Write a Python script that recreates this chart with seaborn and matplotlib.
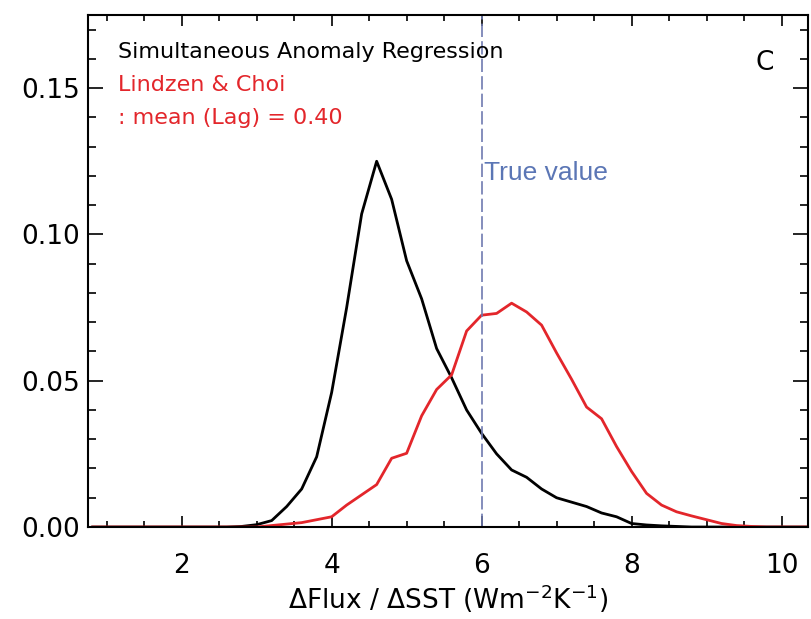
import numpy as np
import pandas as pd
import matplotlib
matplotlib.use("Agg")
import matplotlib.pyplot as plt
from matplotlib.ticker import MultipleLocator
import seaborn as sns

# bin centres (dFlux/dSST, W m-2 K-1)
x_bins = [0.8, 1.0, 1.2, 1.4, 1.6, 1.8, 2.0, 2.2, 2.4, 2.6, 2.8, 3.0, 3.2, 3.4, 3.6,
          3.8, 4.0, 4.2, 4.4, 4.6, 4.8, 5.0, 5.2, 5.4, 5.6, 5.8, 6.0, 6.2, 6.4, 6.6,
          6.8, 7.0, 7.2, 7.4, 7.6, 7.8, 8.0, 8.2, 8.4, 8.6, 8.8, 9.0, 9.2, 9.4, 9.6,
          9.8, 10.0, 10.2, 10.4]

# simultaneous anomaly regression (black)
sim_regr = [0, 0, 0, 0, 0, 0, 0, 0, 0, 0, 0.0002, 0.0008, 0.0022, 0.007, 0.013,
            0.024, 0.046, 0.075, 0.107, 0.125, 0.112, 0.091, 0.078, 0.061, 0.051,
            0.040, 0.032, 0.025, 0.0195, 0.017, 0.013, 0.010, 0.0085, 0.007, 0.0048,
            0.0035, 0.0012, 0.0007, 0.0004, 0.0002, 0, 0, 0, 0, 0,
            0, 0, 0, 0]

# Lindzen & Choi lagged regression (red)
lc_regr = [0, 0, 0, 0, 0, 0, 0, 0, 0, 0, 0, 0, 0.0005, 0.001, 0.0015,
           0.0025, 0.0035, 0.0075, 0.011, 0.0145, 0.0235, 0.0252, 0.038, 0.047, 0.052,
           0.067, 0.0724, 0.073, 0.0765, 0.0735, 0.069, 0.0595, 0.0505, 0.041, 0.037,
           0.0275, 0.019, 0.0115, 0.0075, 0.0052, 0.0038, 0.0025, 0.0012, 0.0005, 0.0002,
           0, 0, 0, 0]

true_value = 6.0

df = pd.DataFrame({
    "x": x_bins * 2,
    "pdf": sim_regr + lc_regr,
    "series": ["sim"] * len(x_bins) + ["lc"] * len(x_bins),
})

sns.set_style("ticks")
plt.rcParams["font.family"] = ["DejaVu Sans"]
plt.rcParams["text.color"] = "black"
plt.rcParams["axes.labelcolor"] = "black"

fig = plt.figure(figsize=(8.11, 6.19), dpi=100)
ax = fig.add_axes([0.1085, 0.1486, 0.8875, 0.8272])

sns.lineplot(data=df, x="x", y="pdf", hue="series",
             palette={"sim": "black", "lc": "#e3262b"},
             linewidth=2.0, legend=False, ax=ax, sort=False)

ax.axvline(true_value, color="#6f7ab0", lw=1.2, linestyle=(0, (8, 2.5)))

ax.set_xlim(0.75, 10.35)
ax.set_ylim(0, 0.175)
ax.xaxis.set_major_locator(MultipleLocator(2))
ax.xaxis.set_minor_locator(MultipleLocator(0.5))
ax.yaxis.set_major_locator(MultipleLocator(0.05))
ax.yaxis.set_minor_locator(MultipleLocator(0.01))
ax.yaxis.set_major_formatter(matplotlib.ticker.FormatStrFormatter("%.2f"))

ax.tick_params(which="both", direction="in", top=True, right=True,
               width=1.2, colors="black", labelsize=19)
ax.tick_params(axis="x", which="major", length=8, pad=19)
ax.tick_params(axis="x", which="minor", length=4)
ax.tick_params(axis="y", which="major", length=11, pad=6)
ax.tick_params(axis="y", which="minor", length=5.5)
for s in ax.spines.values():
    s.set_linewidth(1.5)
    s.set_color("black")

ax.set_xlabel(r"$\Delta$Flux / $\Delta$SST (Wm$^{-2}$K$^{-1}$)", fontsize=19, labelpad=2)
ax.set_ylabel("")

ax.text(0.042, 0.928, "Simultaneous Anomaly Regression", transform=ax.transAxes,
        fontsize=16, color="black", va="center")
ax.text(0.042, 0.863, "Lindzen & Choi", transform=ax.transAxes,
        fontsize=16, color="#e3262b", va="center")
ax.text(0.042, 0.799, ": mean (Lag) = 0.40", transform=ax.transAxes,
        fontsize=16, color="#e3262b", va="center")
ax.text(0.927, 0.907, "C", transform=ax.transAxes, fontsize=19, va="center")
ax.text(6.03, 0.121, "True value", color="#5b76b5", fontsize=19,
        family=["Liberation Sans"], va="center")

fig.savefig("out.png", dpi=100)
